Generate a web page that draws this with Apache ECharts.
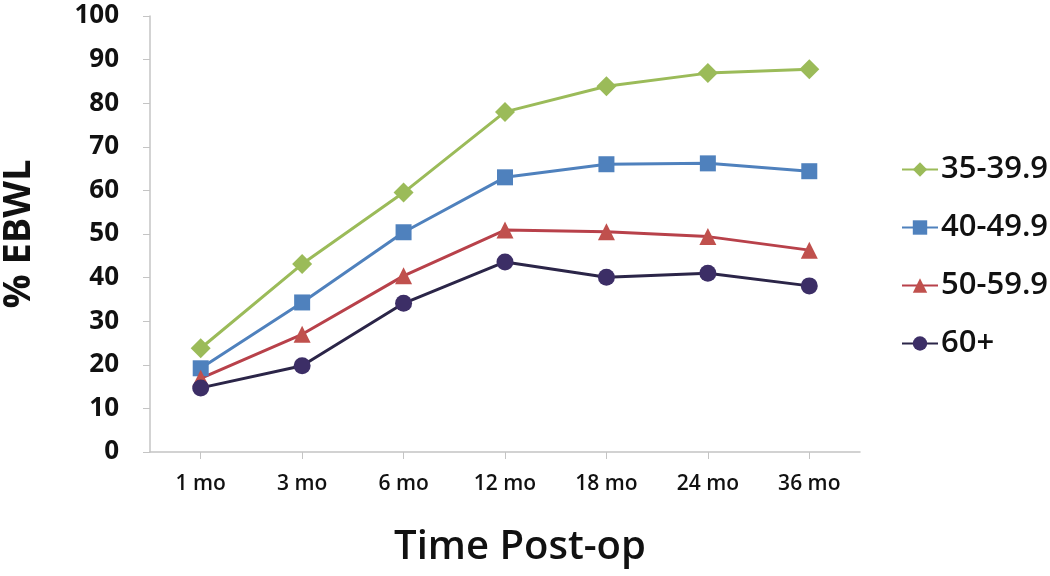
<!DOCTYPE html>
<html>
<head>
<meta charset="utf-8">
<script src="https://cdn.jsdelivr.net/npm/echarts@6/dist/echarts.min.js"></script>
<style>
html, body { margin: 0; padding: 0; background: #fff; }
#main { width: 1050px; height: 576px; }
</style>
</head>
<body>
<div id="main"></div>
<script>
var categories = ['1 mo', '3 mo', '6 mo', '12 mo', '18 mo', '24 mo', '36 mo'];
var seriesNames = ['35-39.9', '40-49.9', '50-59.9', '60+'];
var bmi35 = [23.8, 43.1, 59.5, 78.0, 83.9, 86.9, 87.8];
var bmi40 = [19.2, 34.3, 50.4, 63.0, 66.0, 66.2, 64.4];
var bmi50 = [16.9, 27.0, 40.4, 50.9, 50.5, 49.4, 46.3];
var bmi60 = [14.7, 19.8, 34.1, 43.6, 40.1, 41.0, 38.1];

var chart = echarts.init(document.getElementById('main'));

function mkSeries(name, data, color, lineColor, symbol, size) {
    return {
        name: name,
        type: 'line',
        data: data,
        symbol: symbol,
        symbolSize: size,
        itemStyle: { color: color },
        lineStyle: { color: lineColor, width: 3 },
        emphasis: { disabled: true }
    };
}

var option = {
    animation: false,
    backgroundColor: '#fff',
    grid: { left: 150, right: 190, top: 16, bottom: 124, outerBoundsMode: 'none' },
    legend: {
        orient: 'vertical',
        left: 896,
        top: 149,
        itemGap: 27,
        itemWidth: 36,
        itemHeight: 18,
        textStyle: { fontFamily: 'Open Sans', fontSize: 31, fontWeight: 600, color: '#111', padding: [0, 0, 0, -2] },
        data: seriesNames
    },
    xAxis: {
        type: 'category',
        data: categories,
        boundaryGap: true,
        name: 'Time Post-op',
        nameLocation: 'middle',
        nameGap: 76,
        nameTextStyle: { fontFamily: 'Open Sans', fontSize: 40, fontWeight: 600, color: '#111', padding: [0, 0, 0, 30] },
        axisLine: { lineStyle: { color: '#c4c4c4', width: 1.5 } },
        axisTick: { show: true, alignWithLabel: true, length: 7, lineStyle: { color: '#c4c4c4' } },
        axisLabel: { fontFamily: 'Open Sans', fontSize: 21, fontWeight: 600, color: '#111', margin: 22 }
    },
    yAxis: {
        type: 'value',
        min: 0,
        max: 100,
        interval: 10,
        name: '% EBWL',
        nameLocation: 'middle',
        nameGap: 112,
        nameRotate: 90,
        nameTextStyle: { fontFamily: 'Open Sans', fontSize: 38, fontWeight: 700, color: '#111' },
        axisLine: { show: true, lineStyle: { color: '#c4c4c4', width: 1.5 } },
        axisTick: { show: true, length: 7, lineStyle: { color: '#c4c4c4' } },
        splitLine: { show: false },
        axisLabel: { fontFamily: 'Open Sans', fontSize: 26, fontWeight: 700, color: '#111', margin: 31 }
    },
    series: [
        mkSeries(seriesNames[0], bmi35, '#9bbb59', '#9bbb59', 'diamond', 20),
        mkSeries(seriesNames[1], bmi40, '#4f81bd', '#4f81bd', 'rect', 16),
        mkSeries(seriesNames[2], bmi50, '#c0504d', '#b8414a', 'triangle', 17),
        mkSeries(seriesNames[3], bmi60, '#3c2e66', '#2b2548', 'circle', 17)
    ]
};
chart.setOption(option);
</script>
</body>
</html>
